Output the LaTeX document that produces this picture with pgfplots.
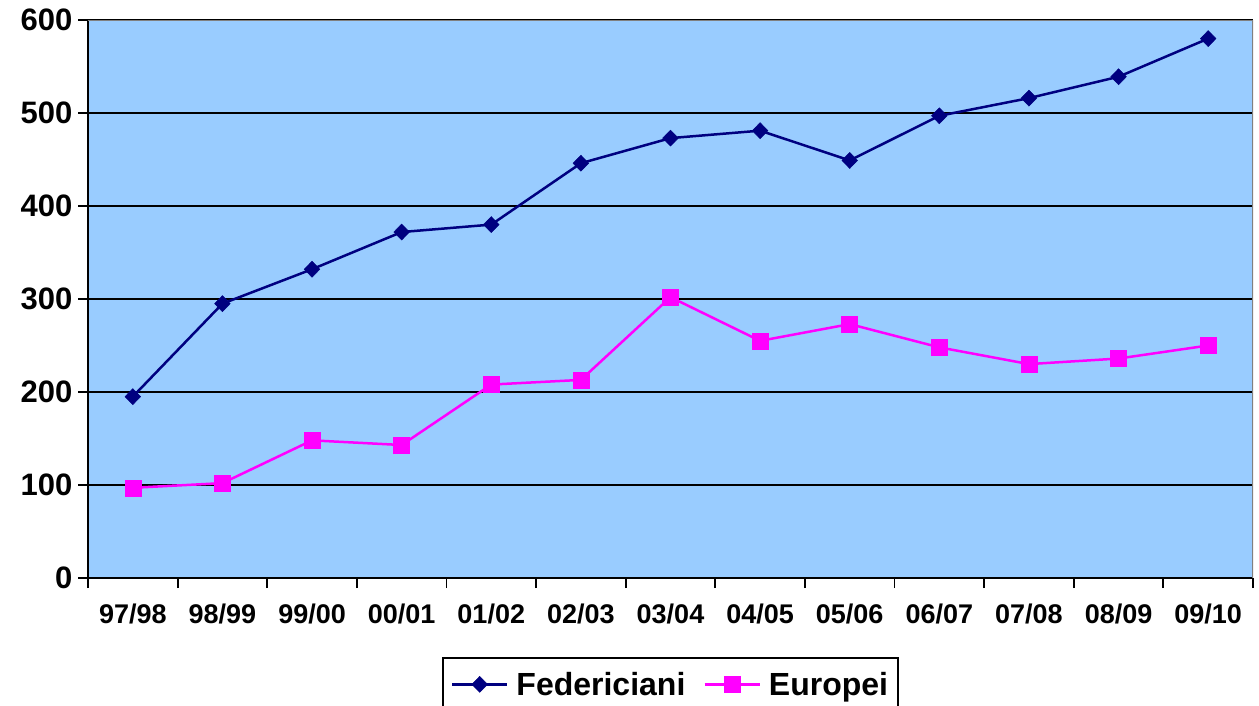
\documentclass[border=0pt]{standalone}
\usepackage{fontspec}
\setmainfont{Liberation Sans}
\usepackage{pgfplots}
\pgfplotsset{compat=1.18}
\definecolor{bgblue}{RGB}{153,204,255}
\definecolor{fed}{RGB}{0,0,128}
\definecolor{eur}{RGB}{255,0,255}
\begin{document}
\begin{tikzpicture}
\path[use as bounding box] (0,0) rectangle (1259pt,705pt);
\begin{axis}[
  at={(88pt,127pt)}, anchor=south west,
  scale only axis, width=1165pt, height=558pt,
  xmin=-0.5, xmax=12.5, ymin=0, ymax=600,
  axis lines*=left,
  axis line style={black, line width=2pt, -},
  axis background/.style={fill=bgblue},
  xtick={0,...,12},
  xticklabels={97/98,98/99,99/00,00/01,01/02,02/03,03/04,04/05,05/06,06/07,07/08,08/09,09/10},
  minor xtick={-0.5,0.5,...,12.5},
  major x tick style={draw=none},
  minor tick length=10pt,
  ytick={0,100,...,600},
  major tick length=10pt,
  tick align=outside,
  tick style={black, line width=1.8pt},
  ymajorgrids,
  grid style={black, line width=2pt},
  /pgf/number format/assume math mode=true,
  xticklabel style={font=\fontsize{27}{32}\selectfont\bfseries, yshift=-12pt},
  yticklabel style={font=\fontsize{31}{36}\selectfont\bfseries, xshift=-2pt},
  legend style={at={(0.5,-0.1416)}, anchor=north, legend columns=-1,
    draw=black, line width=2pt, font=\fontsize{32}{38}\selectfont\bfseries,
    inner xsep=8pt, inner ysep=12pt,
    /tikz/every odd column/.append style={column sep=6pt},
    /tikz/every even column/.append style={column sep=16pt}},
  legend image code/.code={
    \draw[#1, line width=2.5pt] (0pt,0pt) -- (55pt,0pt);
    \draw[#1, line width=0pt] plot coordinates {(27.5pt,0pt)};},
]
\addplot[fed, line width=2.5pt, mark=diamond*, mark size=8pt, mark options={xscale=1.3, solid, line width=0.5pt}]
  coordinates {(0,195)(1,295)(2,332)(3,372)(4,380)(5,446)(6,473)(7,481)(8,449)(9,497)(10,516)(11,539)(12,580)};
\addlegendentry{Federiciani}
\addplot[eur, line width=2.5pt, mark=square*, mark size=8pt, mark options={solid, line width=0.5pt}]
  coordinates {(0,97)(1,102)(2,148)(3,143)(4,208)(5,213)(6,302)(7,255)(8,273)(9,248)(10,230)(11,236)(12,250)};
\addlegendentry{Europei}
\draw[gray, line width=2pt] (rel axis cs:0,1) -- (rel axis cs:1,1) -- (rel axis cs:1,0);
\end{axis}
\end{tikzpicture}
\end{document}
